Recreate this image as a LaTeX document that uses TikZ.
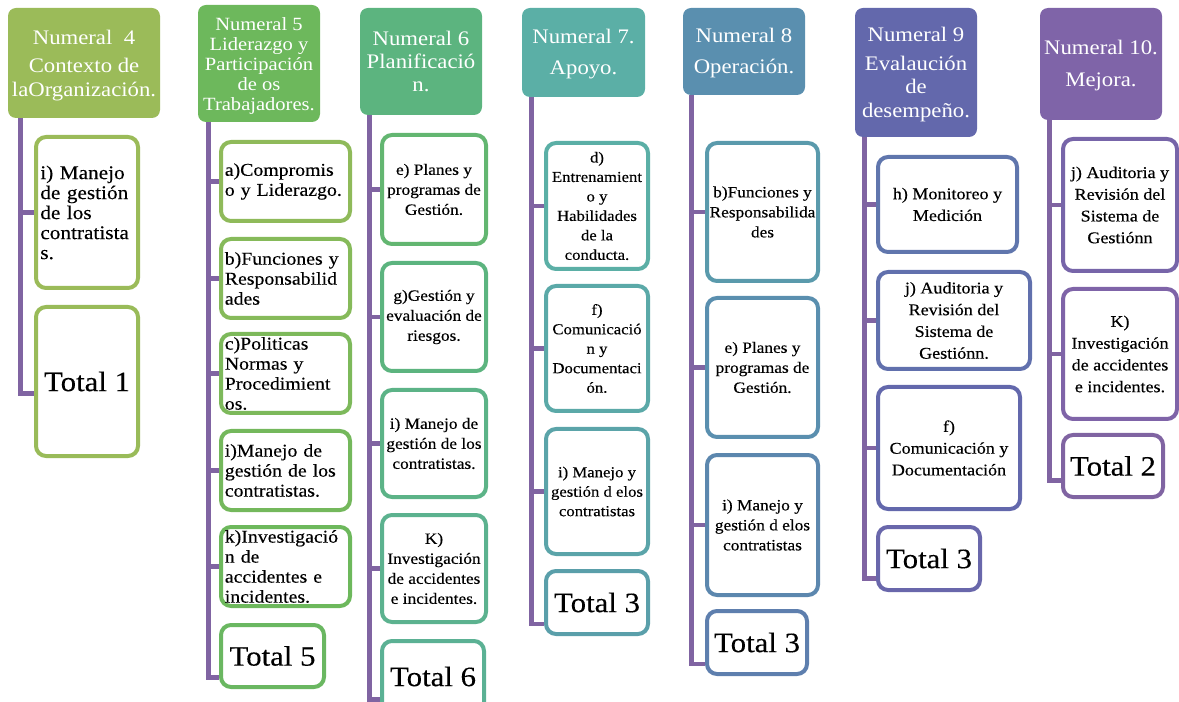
\documentclass[tikz,border=0pt]{standalone}
\usepackage{fontspec}
\setmainfont{Liberation Serif}[FakeStretch=1.1]
\newfontfamily\ChildFam{Liberation Serif}[FakeStretch=1.1, FakeBold=0.3]
\usetikzlibrary{backgrounds}
\newcommand\HeadFont{\fontsize{15.5}{17.5}\selectfont}
\newcommand\HeadSmall{\fontsize{14}{15}\selectfont}
\newcommand\ChildFont{\ChildFam\fontsize{11.8}{15}\selectfont}
\newcommand\ChildSmall{\ChildFam\fontsize{11.4}{14.6}\selectfont}
\newcommand\ChildBig{\ChildFam\fontsize{12.3}{16.3}\selectfont}
\newcommand\ChildLarge{\ChildFam\fontsize{13.5}{15}\selectfont}
\newcommand\ChildHuge{\ChildFam\fontsize{14.5}{15}\selectfont}
\newcommand\TotalFont{\ChildFam\fontsize{21}{25}\selectfont}
\definecolor{hA}{HTML}{9BBB59}
\definecolor{hB}{HTML}{6DB85C}
\definecolor{hC}{HTML}{5CB47F}
\definecolor{hD}{HTML}{5BAFA6}
\definecolor{hE}{HTML}{5A8FAF}
\definecolor{hF}{HTML}{6368AC}
\definecolor{hG}{HTML}{7F64A8}
\definecolor{spinec}{HTML}{8064A2}
\tikzset{
  pos/.style n args={4}{at={({(#1+#3)/2},{(#2+#4)/2})},
    minimum width={(#3-#1)*0.75pt}, minimum height={(#4-#2)*0.75pt}},
  head/.style={fill=#1, draw=none, rounded corners=6pt, inner sep=0pt,
    text=white, align=center, font=\HeadFont},
  child/.style={draw=#1, line width=3pt, fill=white, rounded corners=7.5pt,
    inner sep=0pt, align=center, font=\ChildFont, text=black},
  childl/.style={child=#1, align=left},
  total/.style={child=#1, font=\TotalFont},
  spinel/.style={draw=spinec, line width=3.5pt},
}
\begin{document}
\begin{tikzpicture}[x=0.75pt,y=-0.75pt]
\useasboundingbox (0,0) rectangle (1179,702);
% ---------- column 1
\node[head=hA, pos={8}{8}{160}{118}] (h1) {\rule{0pt}{14pt}Numeral\ \ 4\\[4pt]Contexto de\\laOrganización.};
\node[childl=hA, font=\ChildHuge, text width=70pt, pos={36}{137}{138}{288}] (c1a) {i) Manejo\\de gestión\\de los\\contratista\\s.};
\node[total=hA!95!hB, pos={36}{307}{138}{456}] (c1t) {Total 1};
% ---------- column 2
\node[head=hB, font=\HeadSmall, pos={198}{5}{320}{122}] (h2) {\rule{0pt}{13pt}Numeral 5\\Liderazgo y\\Participación\\de os\\Trabajadores.};
\node[childl=hA!75!hB, font=\ChildLarge, text width=91pt, pos={221}{142}{350}{221}] (c2a) {a)Compromis\\o y Liderazgo.};
\node[childl=hA!55!hB, font=\ChildLarge, text width=91pt, pos={221}{239}{350}{318}] (c2b) {b)Funciones y\\Responsabilid\\ades};
\node[childl=hA!35!hB, font=\ChildLarge, text width=91pt, pos={221}{334}{350}{413}] (c2c) {c)Politicas\\Normas y\\Procedimient\\os.};
\node[childl=hA!15!hB, font=\ChildLarge, text width=91pt, pos={221}{431}{350}{510}] (c2i) {i)Manejo de\\gestión de los\\contratistas.};
\node[childl=hB, font=\ChildLarge, text width=91pt, pos={221}{527}{350}{606}] (c2k) {k)Investigació\\n de\\accidentes e\\incidentes.};
\node[total=hB!85!hC, pos={221}{625}{324}{687}] (c2t) {Total 5};
% ---------- column 3
\node[head=hC, pos={360}{8}{482}{115}] (h3) {Numeral 6\\Planificació\\n.};
\node[child=hB!40!hC, pos={382}{135}{486}{244}] (c3e) {e) Planes y\\programas de\\Gestión.};
\node[child=hC, pos={382}{263}{486}{371}] (c3g) {g)Gestión y\\evaluación de\\riesgos.};
\node[child=hC!80!hD, pos={382}{390}{486}{497}] (c3i) {i) Manejo de\\gestión de los\\contratistas.};
\node[child=hC!60!hD, pos={382}{515}{486}{622}] (c3k) {K)\\Investigación\\de accidentes\\e incidentes.};
\node[total=hC!45!hD, pos={382}{641}{484}{712}] (c3t) {Total 6};
% ---------- column 4
\node[head=hD, pos={522}{8}{645}{97}] (h4) {\rule{0pt}{13pt}Numeral 7.\\[6pt]Apoyo.};
\node[child=hD, font=\ChildSmall, pos={546}{143}{648}{269}] (c4d) {d)\\Entrenamient\\o y\\Habilidades\\de la\\conducta.};
\node[child=hD!80!hE, font=\ChildSmall, pos={546}{286}{648}{411}] (c4f) {f)\\Comunicació\\n y\\Documentaci\\ón.};
\node[child=hD!65!hE, font=\ChildSmall, pos={546}{429}{648}{554}] (c4i) {i) Manejo y\\gestión d elos\\contratistas};
\node[total=hD!50!hE, pos={546}{571}{648}{634}] (c4t) {Total 3};
% ---------- column 5
\node[head=hE, pos={683}{8}{805}{95}] (h5) {\rule{0pt}{13pt}Numeral 8\\[6pt]Operación.};
\node[child=hD!35!hE, pos={707}{143}{818}{281}] (c5b) {b)Funciones y\\Responsabilida\\des};
\node[child=hE, pos={707}{298}{818}{437}] (c5e) {e) Planes y\\programas de\\Gestión.};
\node[child=hE!80!hF, pos={707}{455}{818}{595}] (c5i) {i) Manejo y\\gestión d elos\\contratistas};
\node[total=hE!60!hF, pos={707}{611}{807}{674}] (c5t) {Total 3};
% ---------- column 6
\node[head=hF, pos={855}{8}{977}{137}] (h6) {\rule{0pt}{14pt}Numeral 9\\[4pt]Evalaución\\de\\desempeño.};
\node[child=hE!35!hF, font=\ChildBig, pos={878}{157}{1017}{252}] (c6h) {h) Monitoreo y\\Medición};
\node[child=hE!20!hF, font=\ChildBig, pos={878}{272}{1030}{369}] (c6j) {j) Auditoria y\\Revisión del\\Sistema de\\Gestiónn.};
\node[child=hF, font=\ChildBig, pos={878}{387}{1020}{509}] (c6f) {f)\\Comunicación y\\Documentación};
\node[total=hF!80!hG, pos={878}{527}{980}{590}] (c6t) {Total 3};
% ---------- column 7
\node[head=hG, pos={1040}{8}{1162}{120}] (h7) {\rule{0pt}{13pt}Numeral 10.\\[7pt]Mejora.};
\node[child=hF!30!hG, font=\ChildBig, pos={1063}{139}{1177}{271}] (c7j) {j) Auditoria y\\Revisión del\\Sistema de\\Gestiónn};
\node[child=hG, font=\ChildBig, pos={1063}{289}{1177}{419}] (c7k) {K)\\Investigación\\de accidentes\\e incidentes.};
\node[total=spinec, pos={1063}{435}{1163}{497}] (c7t) {Total 2};
% ---------- spines
\begin{scope}[on background layer]
\draw[spinel] (h1.south west) ++(13,0) |- (c1a.west);
\draw[spinel] (h1.south west) ++(13,0) |- ([yshift=-9pt]c1t.west);
\foreach \c in {a,b,c,i,k} \draw[spinel] (h2.south west) ++(11,0) |- (c2\c.west);
\draw[spinel] (h2.south west) ++(11,0) |- ([yshift=-16pt]c2t.west);
\foreach \c in {e,g,i,k} \draw[spinel] (h3.south west) ++(10,0) |- (c3\c.west);
\draw[spinel] (h3.south west) ++(10,0) |- ([yshift=-17pt]c3t.west);
\foreach \c in {d,f,i} \draw[spinel] (h4.south west) ++(10,0) |- (c4\c.west);
\draw[spinel] (h4.south west) ++(10,0) |- ([yshift=-16pt]c4t.west);
\foreach \c in {b,e,i} \draw[spinel] (h5.south west) ++(9,0) |- (c5\c.west);
\draw[spinel] (h5.south west) ++(9,0) |- ([yshift=-16pt]c5t.west);
\foreach \c in {h,j,f} \draw[spinel] (h6.south west) ++(10,0) |- (c6\c.west);
\draw[spinel] (h6.south west) ++(10,0) |- ([yshift=-15pt]c6t.west);
\foreach \c in {j,k} \draw[spinel] (h7.south west) ++(10,0) |- (c7\c.west);
\draw[spinel] (h7.south west) ++(10,0) |- ([yshift=-11pt]c7t.west);
\end{scope}
\end{tikzpicture}
\end{document}
